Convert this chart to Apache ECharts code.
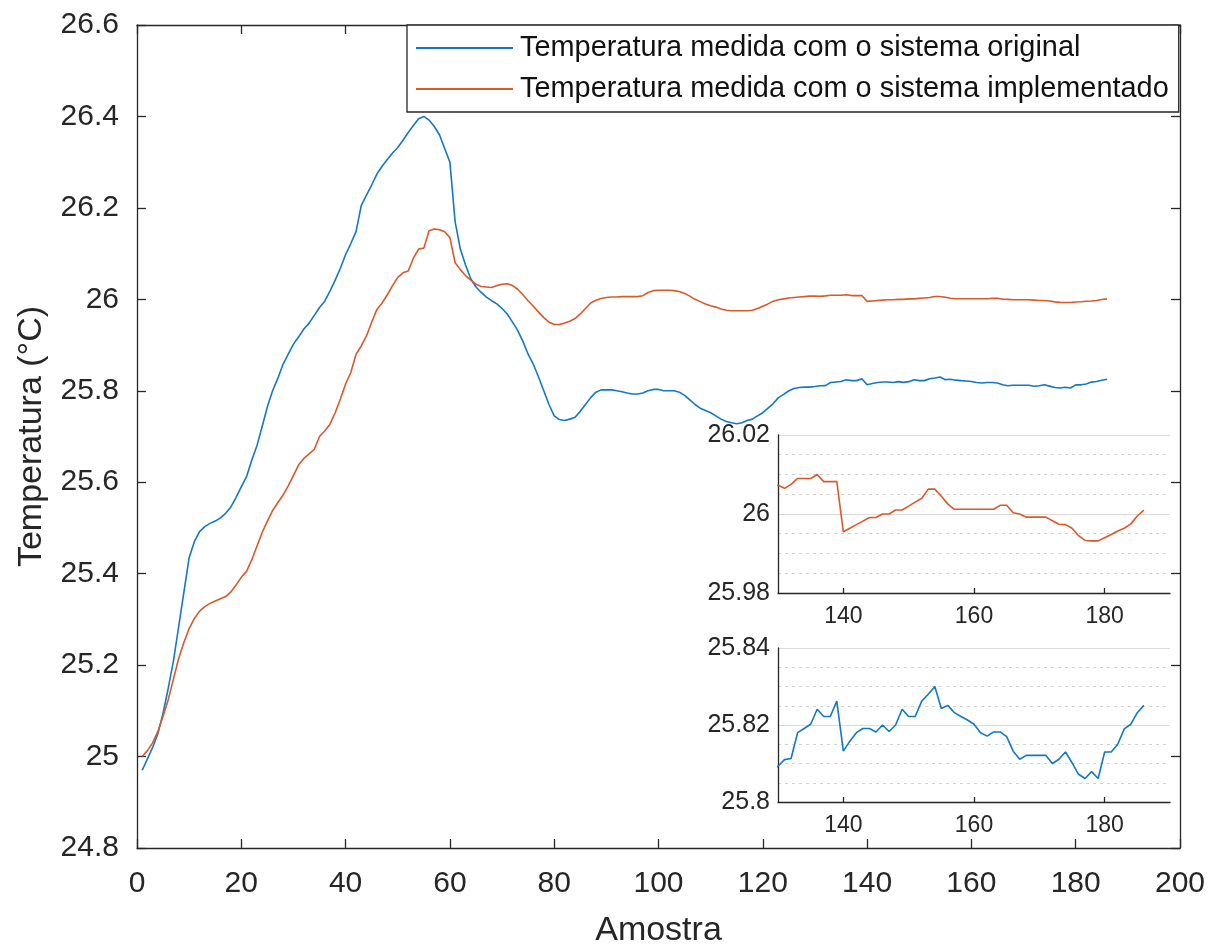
<!DOCTYPE html>
<html>
<head>
<meta charset="utf-8">
<script src="https://cdn.jsdelivr.net/npm/echarts@6/dist/echarts.min.js"></script>
<style>
html,body{margin:0;padding:0;background:#fff;}
#c{width:1209px;height:944px;}
</style>
</head>
<body>
<div id="c"></div>
<script>
// ---- Data ----
const seriesNames = ['Temperatura medida com o sistema original', 'Temperatura medida com o sistema implementado'];

const original = [
 24.970, 24.995, 25.020, 25.050, 25.095, 25.150, 25.210, 25.285, 25.360, 25.435,
 25.470, 25.492, 25.503, 25.510, 25.515, 25.522, 25.532, 25.546, 25.567, 25.590,
 25.612, 25.648, 25.680, 25.722, 25.765, 25.800, 25.827, 25.858, 25.880, 25.902,
 25.918, 25.935, 25.948, 25.965, 25.982, 25.996, 26.018, 26.042, 26.068, 26.098,
 26.122, 26.148, 26.205, 26.228, 26.250, 26.274, 26.291, 26.306, 26.320, 26.332,
 26.348, 26.365, 26.380, 26.395, 26.400, 26.392, 26.378, 26.360, 26.330, 26.300,
 26.170, 26.110, 26.075, 26.045, 26.027, 26.015, 26.005, 25.997, 25.990, 25.980,
 25.968, 25.950, 25.932, 25.908, 25.880, 25.858, 25.830, 25.800, 25.770, 25.745,
 25.737, 25.735, 25.738, 25.742, 25.755, 25.770, 25.785, 25.797, 25.802, 25.802,
 25.802, 25.800, 25.798, 25.795, 25.793, 25.793, 25.795, 25.800, 25.803, 25.803,
 25.800, 25.800, 25.800, 25.797, 25.790, 25.780, 25.770, 25.762, 25.757, 25.752,
 25.745, 25.738, 25.733, 25.730, 25.728, 25.730, 25.735, 25.738, 25.745, 25.752,
 25.762, 25.772, 25.785, 25.792, 25.800, 25.805, 25.807, 25.808, 25.808,
 25.8093, 25.8110, 25.8113, 25.8180, 25.8191, 25.8202, 25.8241, 25.8222, 25.8222, 25.8262,
 25.8132, 25.8158, 25.8180, 25.8191, 25.8191, 25.8182, 25.8200, 25.8183, 25.8200, 25.8241,
 25.8222, 25.8222, 25.8262, 25.8280, 25.8300, 25.8243, 25.8251, 25.8232, 25.8222, 25.8213,
 25.8202, 25.8180, 25.8171, 25.8182, 25.8182, 25.8170, 25.8132, 25.8111, 25.8121, 25.8121,
 25.8121, 25.8121, 25.8100, 25.8111, 25.8130, 25.8102, 25.8072, 25.8061, 25.8079, 25.8061,
 25.8130, 25.8130, 25.8150, 25.8190, 25.8202, 25.8232, 25.8251
];

const implemented = [
 25.000, 25.013, 25.030, 25.055, 25.088, 25.125, 25.170, 25.215, 25.250, 25.280,
 25.302, 25.318, 25.328, 25.335, 25.340, 25.345, 25.350, 25.360, 25.375, 25.392,
 25.405, 25.430, 25.460, 25.490, 25.515, 25.538, 25.555, 25.572, 25.592, 25.615,
 25.638, 25.652, 25.662, 25.672, 25.700, 25.712, 25.727, 25.752, 25.782, 25.815,
 25.840, 25.880, 25.898, 25.920, 25.950, 25.978, 25.992, 26.010, 26.030, 26.048,
 26.058, 26.062, 26.090, 26.110, 26.112, 26.150, 26.154, 26.152, 26.148, 26.135,
 26.080, 26.065, 26.052, 26.042, 26.033, 26.028, 26.027, 26.026, 26.030, 26.033,
 26.034, 26.030, 26.022, 26.010, 25.997, 25.985, 25.972, 25.960, 25.950, 25.945,
 25.945, 25.948, 25.952, 25.958, 25.968, 25.980, 25.992, 25.998, 26.002, 26.004,
 26.005, 26.005, 26.006, 26.006, 26.006, 26.006, 26.008, 26.015, 26.019, 26.020,
 26.020, 26.020, 26.019, 26.017, 26.013, 26.007, 26.000, 25.995, 25.990, 25.986,
 25.983, 25.979, 25.976, 25.975, 25.975, 25.975, 25.975, 25.976, 25.980, 25.985,
 25.990, 25.996, 25.999, 26.001, 26.003, 26.004, 26.005, 26.006, 26.007,
 26.0073, 26.0065, 26.0075, 26.0090, 26.0090, 26.0090, 26.0100, 26.0082, 26.0082, 26.0082,
 25.9955, 25.9964, 25.9973, 25.9982, 25.9991, 25.9991, 26.0000, 26.0000, 26.0010, 26.0010,
 26.0020, 26.0030, 26.0040, 26.0063, 26.0063, 26.0045, 26.0025, 26.0012, 26.0012, 26.0012,
 26.0012, 26.0012, 26.0012, 26.0012, 26.0022, 26.0022, 26.0003, 26.0000, 25.9992, 25.9992,
 25.9992, 25.9992, 25.9983, 25.9974, 25.9973, 25.9964, 25.9945, 25.9933, 25.9932, 25.9932,
 25.9940, 25.9948, 25.9957, 25.9964, 25.9975, 25.9995, 26.0010
];

const sampleStart = 1; // first sample index (Amostra)
const insetXTicks = [140, 160, 180];

// ---- Build chart ----
const FONT = '"Liberation Sans", Arial, Helvetica, sans-serif';
const AX = '#262626';
const BLUE = '#1478c2';
const ORANGE = '#d9592a';

function pairs(arr) { return arr.map((v, i) => [sampleStart + i, v]); }

function mainX(extra) {
  return Object.assign({
    gridIndex: 0, type: 'value', min: 0, max: 200, interval: 20,
    axisLine: { show: true, onZero: false, lineStyle: { color: AX, width: 1.3 } },
    axisTick: { show: true, inside: true, length: 9, lineStyle: { color: AX, width: 1.3 } },
    splitLine: { show: false }
  }, extra);
}
function mainY(extra) {
  return Object.assign({
    gridIndex: 0, type: 'value', min: 24.8, max: 26.6, interval: 0.2,
    axisLine: { show: true, onZero: false, lineStyle: { color: AX, width: 1.3 } },
    axisTick: { show: true, inside: true, length: 9, lineStyle: { color: AX, width: 1.3 } },
    splitLine: { show: false }
  }, extra);
}
function insetX(gi) {
  return {
    gridIndex: gi, type: 'value', min: 130, max: 190,
    axisLine: { show: true, onZero: false, lineStyle: { color: AX, width: 1.3 } },
    axisTick: { show: true, inside: true, length: 5, customValues: insetXTicks, lineStyle: { color: AX, width: 1.3 } },
    axisLabel: { show: true, customValues: insetXTicks, fontSize: 23, color: AX, fontFamily: FONT, margin: 12 },
    splitLine: { show: false }
  };
}
function insetY(gi, mn, mx) {
  return {
    gridIndex: gi, type: 'value', min: mn, max: mx, interval: 0.02,
    axisLine: { show: true, onZero: false, lineStyle: { color: AX, width: 1.3 } },
    axisTick: { show: false },
    axisLabel: { show: true, fontSize: 25, color: AX, fontFamily: FONT, margin: 8, padding: [4, 0, 0, 0] },
    splitLine: { show: true, lineStyle: { color: '#dcdcdc', width: 1 } },
    minorTick: { show: false, splitNumber: 4 },
    minorSplitLine: { show: true, lineStyle: { color: '#d2d2d2', width: 1, type: [3, 4] } }
  };
}

const chart = echarts.init(document.getElementById('c'), null, { renderer: 'canvas' });
chart.setOption({
  animation: false,
  backgroundColor: '#fff',
  textStyle: { fontFamily: FONT },
  grid: [
    { left: 137, right: 29, top: 25, bottom: 96, containLabel: false, outerBoundsMode: 'none' },
    { left: 778, right: 39, top: 435, bottom: 351, containLabel: false, outerBoundsMode: 'none' },
    { left: 778, right: 39, top: 648, bottom: 142, containLabel: false, outerBoundsMode: 'none' }
  ],
  legend: {
    data: seriesNames,
    orient: 'vertical', left: 407, top: 25,
    padding: [8, 10, 8, 9],
    icon: 'rect',
    itemWidth: 97, itemHeight: 2, itemGap: 11,
    borderColor: AX, borderWidth: 1.3, backgroundColor: '#fff',
    textStyle: { fontSize: 28.9, color: '#111', fontFamily: FONT, lineHeight: 30, padding: [0, 0, 0, 2] }
  },
  xAxis: [
    mainX({
      position: 'bottom',
      axisLabel: { show: true, fontSize: 30, color: AX, fontFamily: FONT, margin: 21 },
      name: 'Amostra', nameLocation: 'middle', nameGap: 66,
      nameTextStyle: { fontSize: 34, color: AX, fontFamily: FONT }
    }),
    mainX({ position: 'top', axisLabel: { show: false } }),
    insetX(1),
    insetX(2)
  ],
  yAxis: [
    mainY({
      position: 'left',
      axisLabel: { show: true, fontSize: 30, color: AX, fontFamily: FONT, margin: 18, padding: [11, 0, 0, 0] },
      name: 'Temperatura (°C)', nameLocation: 'middle', nameGap: 88,
      nameTextStyle: { fontSize: 34, color: AX, fontFamily: FONT }
    }),
    mainY({ position: 'right', axisLabel: { show: false } }),
    insetY(1, 25.98, 26.02),
    insetY(2, 25.8, 25.84)
  ],
  series: [
    { name: seriesNames[0], type: 'line', xAxisIndex: 0, yAxisIndex: 0, data: pairs(original),
      symbol: 'none', lineStyle: { color: BLUE, width: 1.6 }, itemStyle: { color: BLUE } },
    { name: seriesNames[1], type: 'line', xAxisIndex: 0, yAxisIndex: 0, data: pairs(implemented),
      symbol: 'none', lineStyle: { color: ORANGE, width: 1.6 }, itemStyle: { color: ORANGE } },
    { name: 'inset-implementado', type: 'line', xAxisIndex: 2, yAxisIndex: 2, data: pairs(implemented),
      symbol: 'none', clip: true, lineStyle: { color: ORANGE, width: 1.6 }, itemStyle: { color: ORANGE } },
    { name: 'inset-original', type: 'line', xAxisIndex: 3, yAxisIndex: 3, data: pairs(original),
      symbol: 'none', clip: true, lineStyle: { color: BLUE, width: 1.6 }, itemStyle: { color: BLUE } }
  ]
});
</script>
</body>
</html>
